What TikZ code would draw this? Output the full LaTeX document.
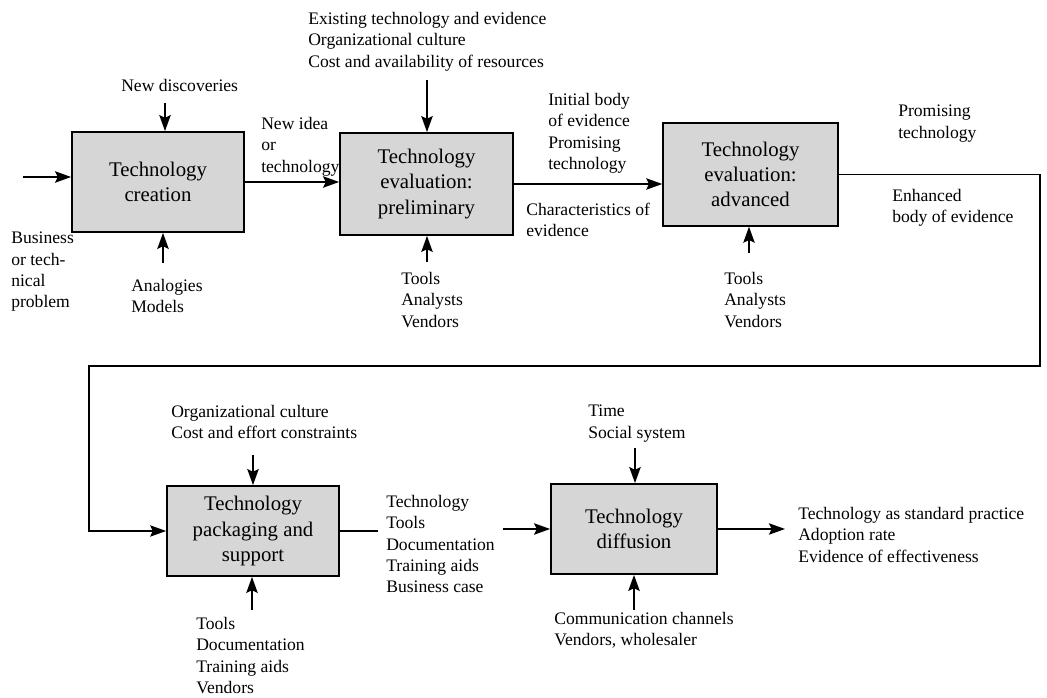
\documentclass[tikz,border=0pt]{standalone}
\usepackage{fontspec}
\setmainfont{LiberationSerif}[Extension=.ttf, UprightFont=*-Regular, BoldFont=*-Bold, ItalicFont=*-Italic, BoldItalicFont=*-BoldItalic]
\usetikzlibrary{arrows.meta}

\newcommand{\lblfont}{\fontsize{13.2}{16}\selectfont}
\newcommand{\boxfont}{\fontsize{15.6}{18.8}\selectfont}

\tikzset{
  procbox/.style={draw, line width=1.3pt, fill=gray!32, align=center, font=\boxfont, inner sep=0pt},
  lbl/.style={anchor=north west, inner sep=0.75pt, align=left, font=\lblfont},
  flow/.style={line width=1.3pt, -{Stealth[length=12pt,width=8.5pt,inset=2pt]}},
  loopline/.style={line width=0.9pt, -{Stealth[length=12pt,width=8.5pt,inset=2pt]}},
}

\begin{document}
\begin{tikzpicture}[x=0.75pt,y=0.75pt,yscale=-1,xscale=1]
\useasboundingbox (0,0) rectangle (1047,698);

%Shape: Rectangle [creation]
\node[procbox, minimum width=129pt, minimum height=75pt] (create) at (158,182) {Technology\\creation};
%Shape: Rectangle [preliminary]
\node[procbox, minimum width=129.75pt, minimum height=76.5pt] (prelim) at (426.5,184) {Technology\\evaluation:\\preliminary};
%Shape: Rectangle [advanced]
\node[procbox, minimum width=131pt, minimum height=77pt] (advanced) at (750.5,174.5) {Technology\\evaluation:\\advanced};
%Shape: Rectangle [packaging]
\node[procbox, minimum width=129pt, minimum height=67.5pt] (package) at (253,531) {Technology\\packaging and\\support};
%Shape: Rectangle [diffusion]
\node[procbox, minimum width=124.5pt, minimum height=67.5pt] (diffuse) at (634,529) {Technology\\diffusion};

% Text Node
\node[lbl] (newdisc) at (120,78) {New discoveries};
% Text Node
\node[lbl] (busprob) at (10,231) {Business\\or tech-\\nical\\problem};
% Text Node
\node[lbl] (analog) at (130,278) {Analogies\\Models};
% Text Node
\node[lbl] (newidea) at (260,116) {New idea\\or\\technology};
% Text Node
\node[lbl] (existing) at (307,11) {Existing technology and evidence\\Organizational culture\\Cost and availability of resources};
% Text Node
\node[lbl] (toolsA) at (400,271) {Tools\\Analysts\\Vendors};
% Text Node
\node[lbl] (initial) at (547,92) {Initial body\\of evidence\\Promising\\technology};
% Text Node
\node[lbl] (charact) at (525,202) {Characteristics of\\evidence};
% Text Node
\node[lbl] (toolsB) at (723,271) {Tools\\Analysts\\Vendors};
% Text Node
\node[lbl] (promising) at (897,104) {Promising\\technology};
% Text Node
\node[lbl] (enhanced) at (891,188) {Enhanced\\body of evidence};
% Text Node
\node[lbl] (orgcult) at (170,404) {Organizational culture\\Cost and effort constraints};
% Text Node
\node[lbl] (toolsC) at (195,616) {Tools\\Documentation\\Training aids\\Vendors};
% Text Node
\node[lbl] (techlist) at (385,494) {Technology\\Tools\\Documentation\\Training aids\\Business case};
% Text Node
\node[lbl] (timesoc) at (587,404) {Time\\Social system};
% Text Node
\node[lbl] (commch) at (553,611) {Communication channels\\Vendors, wholesaler};
% Text Node
\node[lbl] (outcome) at (797,506) {Technology as standard practice\\Adoption rate\\Evidence of effectiveness};

% free ends of the arrows
\coordinate (start) at (23,177);
\coordinate (dnA) at (165,103);
\coordinate (upA) at (163,263);
\coordinate (dnB) at (427,80);
\coordinate (upB) at (427,262);
\coordinate (upC) at (749,253);
\coordinate (dnD) at (253,455);
\coordinate (upD) at (252,610);
\coordinate (dnE) at (635,448);
\coordinate (upE) at (634,610);
\coordinate (finish) at (785,529);
\coordinate (loopR) at (1040,366);
\coordinate (loopL) at (89,366);

%Straight Lines
\draw[flow] (start) -- (start -| create.west);
\draw[flow] (dnA) -- (dnA |- create.north);
\draw[flow] (upA) -- (upA |- create.south);
\draw[flow] (create.east) -- (create.east -| prelim.west);
%Straight Lines
\draw[flow] (dnB) -- (dnB |- prelim.north);
\draw[flow] (upB) -- (upB |- prelim.south);
\draw[flow] (prelim.east) -- (prelim.east -| advanced.west);
%Straight Lines
\draw[flow] (upC) -- (upC |- advanced.south);
\draw[loopline] (advanced.east) -| (loopR) -- (loopL) |- (package.west);
%Straight Lines
\draw[flow] (dnD) -- (dnD |- package.north);
\draw[flow] (upD) -- (upD |- package.south);
\draw[line width=1.3pt] (package.east) -- ([xshift=-5pt]techlist.west |- package.east);
\draw[flow] ([xshift=5pt]techlist.east |- diffuse.west) -- (diffuse.west);
%Straight Lines
\draw[flow] (dnE) -- (dnE |- diffuse.north);
\draw[flow] (upE) -- (upE |- diffuse.south);
\draw[flow] (diffuse.east) -- (finish);

\end{tikzpicture}
\end{document}
